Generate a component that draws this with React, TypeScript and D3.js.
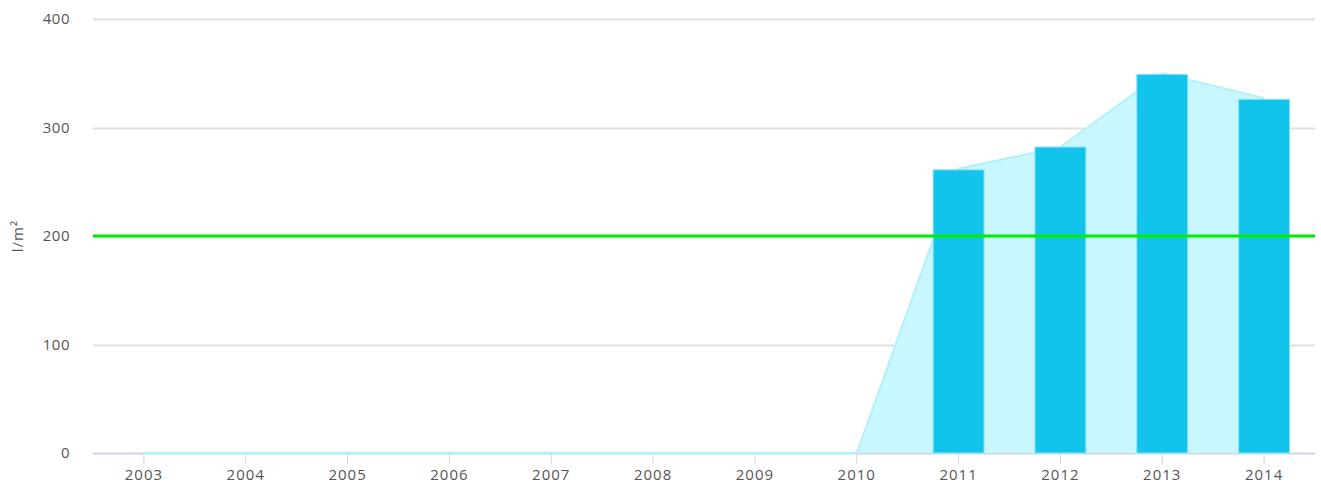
import * as d3 from 'd3';
import { useEffect, useRef } from 'react';

// data
const years = ['2003', '2004', '2005', '2006', '2007', '2008', '2009', '2010', '2011', '2012', '2013', '2014'];
const areaValues = [0, 0, 0, 0, 0, 0, 0, 0, 262, 282, 350, 327];
const barValues = [null, null, null, null, null, null, null, null, 261, 282, 349, 326];
const yTicks = [0, 100, 200, 300, 400];
const threshold = 200;

const FONT = '"Open Sans", "DejaVu Sans", sans-serif';

export default function App() {
  const ref = useRef<SVGSVGElement>(null);

  useEffect(() => {
    const W = 1321;
    const H = 486;
    const margin = { top: 19, right: 6, bottom: 33, left: 93 };
    const width = W - margin.left - margin.right;
    const height = H - margin.top - margin.bottom;

    const svg = d3.select(ref.current);
    svg.selectAll('*').remove();

    const g = svg.append('g').attr('transform', `translate(${margin.left},${margin.top})`);

    const x = d3.scaleBand().domain(years).range([0, width]).padding(0);
    const y = d3.scaleLinear().domain([0, 400]).range([height, 0]);
    const cx = (d: string) => (x(d) ?? 0) + x.bandwidth() / 2;

    //gridlines
    g.append('g')
      .selectAll('line')
      .data(yTicks.filter((t) => t > 0))
      .join('line')
      .attr('x1', 0)
      .attr('x2', width)
      .attr('y1', (d) => Math.round(y(d)) + 0.5)
      .attr('y2', (d) => Math.round(y(d)) + 0.5)
      .attr('stroke', '#e0e0e0')
      .attr('stroke-width', 2);

    //y labels
    g.append('g')
      .selectAll('text')
      .data(yTicks)
      .join('text')
      .attr('x', -23)
      .attr('y', (d) => y(d))
      .attr('dy', '0.35em')
      .attr('text-anchor', 'end')
      .style('font-family', FONT)
      .style('font-size', '15px')
      .style('letter-spacing', '0.5px')
      .style('fill', '#555')
      .text((d) => d);

    //y axis title
    svg
      .append('text')
      .attr('transform', `translate(23,${margin.top + y(200)}) rotate(-90)`)
      .attr('text-anchor', 'middle')
      .style('font-family', FONT)
      .style('font-size', '15px')
      .style('letter-spacing', '1px')
      .style('fill', '#555')
      .text('l/m²');

    //area
    const pts = years.map((yr, i) => ({ yr, v: areaValues[i] }));
    const area = d3
      .area<{ yr: string; v: number }>()
      .x((d) => cx(d.yr))
      .y0(y(0))
      .y1((d) => y(d.v));
    const line = d3
      .line<{ yr: string; v: number }>()
      .x((d) => cx(d.yr))
      .y((d) => y(d.v));

    g.append('path').datum(pts).attr('d', area).attr('fill', '#c8f7fd');

    //x axis
    const xAxis = g
      .append('g')
      .attr('transform', `translate(0,${height})`)
      .call(d3.axisBottom(x).tickSize(11).tickPadding(5))
      .call((a) => {
        a.select('.domain').attr('stroke', '#ccd6eb').attr('stroke-width', 2).attr('d', `M0,0.5H${width}`);
        a.selectAll('.tick line').attr('stroke', '#ccd6eb');
        a.selectAll('.tick text')
          .style('font-family', FONT)
          .style('font-size', '15px')
          .style('letter-spacing', '1px')
          .style('fill', '#555');
      });
    xAxis.lower();

    g.append('path')
      .datum(pts)
      .attr('d', line)
      .attr('fill', 'none')
      .attr('stroke', '#b2f0fb')
      .attr('stroke-width', 2);

    //bars
    const bw = x.bandwidth() / 2;
    g.append('g')
      .selectAll('rect')
      .data(years.map((yr, i) => ({ yr, v: barValues[i] })).filter((d) => d.v !== null))
      .join('rect')
      .attr('x', (d) => cx(d.yr) - bw / 2)
      .attr('y', (d) => y(d.v as number))
      .attr('width', bw)
      .attr('height', (d) => y(0) - y(d.v as number))
      .attr('fill', '#12c3ec')
      .attr('stroke', '#8de4f7')
      .attr('stroke-width', 1);

    //threshold line
    g.append('line')
      .attr('x1', 0)
      .attr('x2', width)
      .attr('y1', y(threshold))
      .attr('y2', y(threshold))
      .attr('stroke', '#00ee00')
      .attr('stroke-width', 3);
  }, []);

  return (
    <svg
      ref={ref}
      width={1321}
      height={486}
      style={{ position: 'absolute', left: 0, top: 0, background: '#fff' }}
    />
  );
}
